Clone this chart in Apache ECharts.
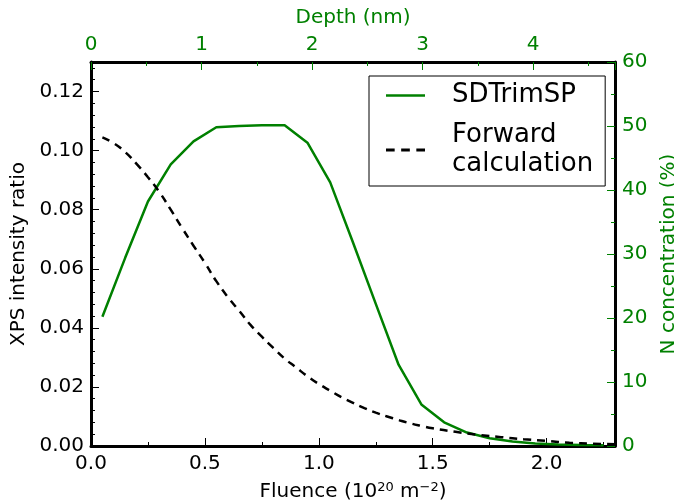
<!DOCTYPE html>
<html>
<head>
<meta charset="utf-8">
<script src="https://cdn.jsdelivr.net/npm/echarts@6/dist/echarts.min.js"></script>
<style>
  html, body { margin: 0; padding: 0; background: #fff; }
  #chart1 { width: 674px; height: 502px; }
</style>
</head>
<body>
<div id="chart1"></div>
<script>
// SDTrimSP N concentration (%) vs fluence
var simFluence = [0.05, 0.15, 0.25, 0.35, 0.45, 0.55, 0.65, 0.75, 0.85, 0.95, 1.05, 1.15, 1.25, 1.35, 1.45, 1.55, 1.65, 1.75, 1.85, 1.95, 2.05, 2.15, 2.25];
var simConc = [20.2, 29.4, 38.2, 44.0, 47.6, 49.8, 50.0, 50.1, 50.1, 47.4, 41.2, 31.8, 22.2, 12.7, 6.5, 3.7, 2.1, 1.2, 0.7, 0.4, 0.25, 0.15, 0.1];

// forward calculation, XPS intensity ratio vs fluence
var fwdFluence = [0.05, 0.1, 0.15, 0.2, 0.25, 0.3, 0.35, 0.4, 0.45, 0.5, 0.55, 0.6, 0.65, 0.7, 0.75, 0.8, 0.85, 0.9, 0.95, 1.0, 1.05, 1.1, 1.15, 1.2, 1.25, 1.3, 1.35, 1.4, 1.45, 1.5, 1.6, 1.7, 1.8, 1.9, 2.0, 2.1, 2.2, 2.3];
var fwdRatio = [0.1045, 0.1025, 0.0995, 0.0955, 0.0910, 0.0860, 0.0800, 0.0738, 0.0678, 0.0620, 0.0558, 0.0505, 0.0458, 0.0410, 0.0370, 0.0332, 0.0296, 0.0266, 0.0236, 0.0210, 0.0187, 0.0165, 0.0146, 0.0128, 0.0113, 0.0100, 0.0088, 0.0077, 0.0068, 0.0060, 0.0048, 0.0038, 0.0030, 0.0023, 0.0017, 0.0011, 0.0008, 0.0006];

var green = "#008000";
var font = "DejaVu Sans";

function pairs(xs, ys) {
  return xs.map(function (x, i) { return [x, ys[i]]; });
}

var chart1 = echarts.init(document.getElementById("chart1"));
var option = {
  animation: false,
  textStyle: { fontFamily: font },
  grid: { left: 91, right: 59, top: 62, bottom: 56, containLabel: false, outerBoundsMode: "none" },
  legend: {
    left: 369,
    top: 76,
    orient: "vertical",
    backgroundColor: "#fff",
    borderColor: "#000",
    borderWidth: 1,
    borderRadius: 0,
    padding: [5, 12, 7, 17],
    itemGap: 11,
    itemWidth: 39,
    itemHeight: 14,
    textStyle: { fontFamily: font, fontSize: 26, color: "#000", lineHeight: 29, padding: [0, 0, 0, 22] },
    data: [
      { name: "SDTrimSP", icon: "path://M0,6 L39,6 L39,8.6 L0,8.6 Z", itemStyle: { color: green } },
      { name: "Forward\ncalculation", icon: "path://M0,6 L8,6 L8,8.6 L0,8.6 Z M14,6 L22,6 L22,8.6 L14,8.6 Z M28,6 L36,6 L36,8.6 L28,8.6 Z", itemStyle: { color: "#000" } }
    ]
  },
  xAxis: [
    {
      type: "value",
      position: "bottom",
      min: 0,
      max: 2.3,
      interval: 0.5,
      name: "Fluence (10{sup|20} m{sup|\u22122})",
      nameLocation: "middle",
      nameGap: 35,
      nameTextStyle: {
        fontSize: 20, color: "#000",
        rich: { sup: { fontSize: 13, verticalAlign: "top", padding: [0, 0, 9, 0] } }
      },
      splitLine: { show: false },
      axisLine: { onZero: false, lineStyle: { color: "#000", width: 3 } },
      axisTick: { inside: true, length: 8, lineStyle: { color: "#000", width: 1 } },
      minorTick: { show: true, splitNumber: 2, length: 4, lineStyle: { color: "#000" } },
      axisLabel: {
        fontSize: 20, color: "#000", margin: 8, showMaxLabel: false,
        formatter: function (v) { return v.toFixed(1); }
      }
    },
    {
      type: "value",
      position: "top",
      min: 0,
      max: 4.74,
      interval: 1,
      name: "Depth (nm)",
      nameLocation: "middle",
      nameGap: 34,
      nameTextStyle: { fontSize: 20, color: green },
      splitLine: { show: false },
      axisLine: { onZero: false, lineStyle: { color: "#000", width: 3 } },
      axisTick: { inside: true, length: 8, lineStyle: { color: green, width: 1 } },
      minorTick: { show: true, splitNumber: 2, length: 4, lineStyle: { color: green } },
      axisLabel: {
        fontSize: 20, color: green, margin: 7, showMaxLabel: false,
        formatter: function (v) { return String(v); }
      }
    }
  ],
  yAxis: [
    {
      type: "value",
      position: "left",
      min: 0,
      max: 0.13,
      interval: 0.02,
      name: "XPS intensity ratio",
      nameLocation: "middle",
      nameGap: 60,
      nameTextStyle: { fontSize: 20, color: "#000" },
      splitLine: { show: false },
      axisLine: { onZero: false, lineStyle: { color: "#000", width: 3 } },
      axisTick: { inside: true, length: 8, lineStyle: { color: "#000", width: 1 } },
      minorTick: { show: true, splitNumber: 5, length: 4, lineStyle: { color: "#000" } },
      axisLabel: {
        fontSize: 20, color: "#000", margin: 7, showMaxLabel: false,
        formatter: function (v) { return v.toFixed(2); }
      }
    },
    {
      type: "value",
      position: "right",
      min: 0,
      max: 60,
      interval: 10,
      name: "N concentration (%)",
      nameLocation: "middle",
      nameGap: 36,
      nameRotate: 90,
      nameTextStyle: { fontSize: 20, color: green },
      splitLine: { show: false },
      axisLine: { onZero: false, lineStyle: { color: "#000", width: 3 } },
      axisTick: { inside: true, length: 8, lineStyle: { color: green, width: 1 } },
      minorTick: { show: true, splitNumber: 2, length: 4, lineStyle: { color: green } },
      axisLabel: { fontSize: 20, color: green, margin: 7 }
    }
  ],
  series: [
    {
      name: "SDTrimSP",
      type: "line",
      xAxisIndex: 0,
      yAxisIndex: 1,
      data: pairs(simFluence, simConc),
      symbol: "none",
      lineStyle: { color: green, width: 2.5 },
      itemStyle: { color: green },
      z: 3
    },
    {
      name: "Forward\ncalculation",
      type: "line",
      xAxisIndex: 0,
      yAxisIndex: 0,
      data: pairs(fwdFluence, fwdRatio),
      symbol: "none",
      smooth: true,
      lineStyle: { color: "#000", width: 2.5, type: [8, 6] },
      itemStyle: { color: "#000" },
      z: 4
    }
  ]
};
chart1.setOption(option);
window.addEventListener("resize", function () {
  chart1.resize();
});
</script>
</body>
</html>
